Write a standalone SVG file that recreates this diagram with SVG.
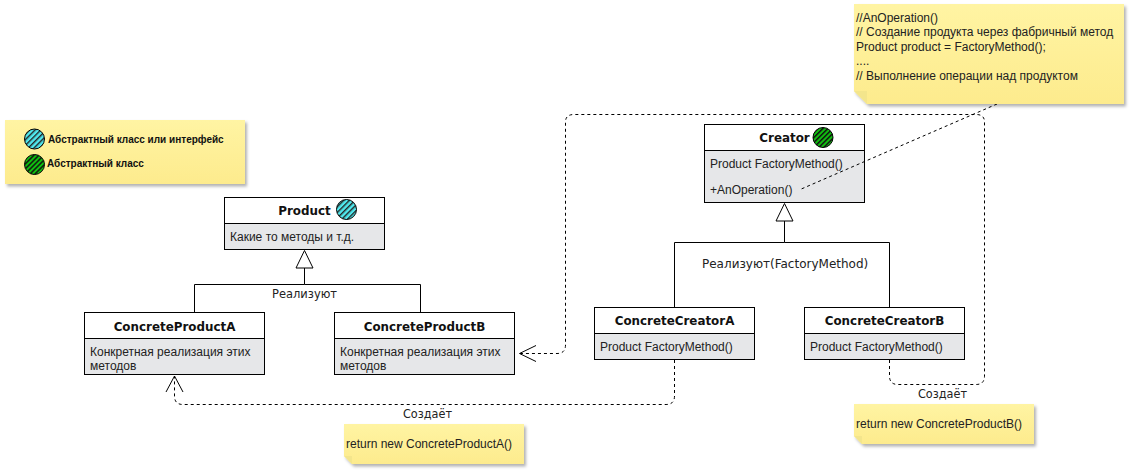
<svg xmlns="http://www.w3.org/2000/svg" width="1130" height="471" viewBox="0 0 1130 471">
<style>
text{font-family:"Liberation Sans",Arial,sans-serif;font-size:12px;fill:#222}
.t{font-family:"DejaVu Sans",Verdana,sans-serif;font-weight:bold;font-size:11.900px;fill:#111;text-anchor:middle}
.l{font-family:"DejaVu Sans",Verdana,sans-serif;font-size:11.700px;fill:#222}
.lg{font-size:10px;font-weight:bold;fill:#111}
.hd{fill:#fff;stroke:#000;stroke-width:1}
.bd{fill:#e6e7e9;stroke:#000;stroke-width:1}
.s{fill:none;stroke:#000;stroke-width:1}
.d{fill:none;stroke:#000;stroke-width:1;stroke-dasharray:3 3}
.n{fill:url(#ng);filter:url(#sh)}
.f{fill:#f3e58c}
.c{stroke:#000;stroke-width:1}
</style>
<defs>
<linearGradient id="ng" x1="0" y1="0" x2="0" y2="1"><stop offset="0" stop-color="#fff4a3"/><stop offset="1" stop-color="#fdeb8d"/></linearGradient>
<filter id="sh" x="-5%" y="-5%" width="112%" height="125%"><feDropShadow dx="2" dy="2.500" stdDeviation="1.500" flood-color="#000" flood-opacity=".3"/></filter>
<pattern id="hc" width="4" height="4" patternUnits="userSpaceOnUse" patternTransform="rotate(45)"><rect width="4" height="4" fill="#4fe8ee"/><rect width="1.400" height="4" fill="#222"/></pattern>
<pattern id="hg" width="3.500" height="3.500" patternUnits="userSpaceOnUse" patternTransform="rotate(45)"><rect width="3.500" height="3.500" fill="#0fc40f"/><rect width="1.500" height="3.500" fill="#111"/></pattern>
</defs>

<g id="legend">
<rect class="n" x="5" y="120" width="240" height="64"/>
<circle class="c" cx="34.500" cy="139" r="10" fill="url(#hc)"/>
<circle class="c" cx="34.500" cy="164.500" r="10" fill="url(#hg)"/>
<text class="lg" x="48" y="142.500">Абстрактный класс или интерфейс</text>
<text class="lg" x="47" y="167">Абстрактный класс</text>
</g>

<g id="product">
<rect class="bd" x="224.500" y="197.500" width="160" height="52"/>
<rect class="hd" x="224.500" y="197.500" width="160" height="26"/>
<text class="t" x="304.500" y="215">Product</text>
<circle class="c" cx="346.500" cy="209.500" r="10" fill="url(#hc)"/>
<text x="230" y="241">Какие то методы и т.д.</text>
</g>

<g id="concrete-product-a">
<rect class="bd" x="84.500" y="312.500" width="180" height="62"/>
<rect class="hd" x="84.500" y="312.500" width="180" height="26"/>
<text class="t" x="174.500" y="330.500">ConcreteProductA</text>
<text x="90" y="356">Конкретная реализация этих</text>
<text x="90" y="370">методов</text>
</g>

<g id="concrete-product-b">
<rect class="bd" x="334.500" y="312.500" width="180" height="62"/>
<rect class="hd" x="334.500" y="312.500" width="180" height="26"/>
<text class="t" x="424.500" y="330.500">ConcreteProductB</text>
<text x="340" y="356">Конкретная реализация этих</text>
<text x="340" y="370">методов</text>
</g>

<g id="creator">
<rect class="bd" x="704.500" y="124.500" width="160" height="78"/>
<rect class="hd" x="704.500" y="124.500" width="160" height="26"/>
<text class="t" x="784.500" y="142">Creator</text>
<circle class="c" cx="823" cy="137.500" r="10" fill="url(#hg)"/>
<text x="710" y="168">Product FactoryMethod()</text>
<text x="710" y="194">+AnOperation()</text>
</g>

<g id="concrete-creator-a">
<rect class="bd" x="594.500" y="307.500" width="160" height="52"/>
<rect class="hd" x="594.500" y="307.500" width="160" height="26"/>
<text class="t" x="674.500" y="325">ConcreteCreatorA</text>
<text x="600" y="351">Product FactoryMethod()</text>
</g>

<g id="concrete-creator-b">
<rect class="bd" x="804.500" y="307.500" width="160" height="52"/>
<rect class="hd" x="804.500" y="307.500" width="160" height="26"/>
<text class="t" x="884.500" y="325">ConcreteCreatorB</text>
<text x="810" y="351">Product FactoryMethod()</text>
</g>

<g id="connectors">
<path class="s" d="M304.500 268V284.500H194.500V312M304.500 284.500H420.500V312"/>
<path class="s" d="M296 268L304.500 250.500L313 268Z"/>
<path class="s" d="M784.500 221V242.500H674.500V307M784.500 242.500H889.500V307"/>
<path class="s" d="M776 221L784.500 203.500L793 221Z"/>
<path class="d" d="M889.500 360V376Q889.500 384.500 898 384.500H976Q984.500 384.500 984.500 376V122Q984.500 114.500 976 114.500H574Q565.500 114.500 565.500 122V345Q565.500 353.500 557 353.500H520"/>
<path class="s" d="M536 345.500L519.500 353.500L536 361.500"/>
<path class="d" d="M674.500 360V396Q674.500 404.500 666 404.500H183Q174.500 404.500 174.500 396V376"/>
<path class="s" d="M166 392L174.500 376L183 392"/>
<path class="d" d="M997 104L799 190"/>
</g>

<g id="note-operation">
<path class="n" d="M854 4H1124V104H867L854 91Z"/>
<path class="f" d="M854 91H867V104Z"/>
<text x="856" y="22">//AnOperation()</text>
<text x="856" y="36">// Создание продукта через фабричный метод</text>
<text x="856" y="51">Product product = FactoryMethod();</text>
<text x="856" y="65">....</text>
<text x="856" y="80">// Выполнение операции над продуктом</text>
</g>

<g id="note-a">
<path class="n" d="M344 424H524V464H352L344 456Z"/>
<path class="f" d="M344 456H352V464Z"/>
<text x="346" y="448">return new ConcreteProductA()</text>
</g>

<g id="note-b">
<path class="n" d="M854 404H1034V444H862L854 436Z"/>
<path class="f" d="M854 436H862V444Z"/>
<text x="856" y="428">return new ConcreteProductB()</text>
</g>

<g id="labels">
<text class="l" x="272" y="298" textLength="65" lengthAdjust="spacingAndGlyphs">Реализуют</text>
<text class="l" x="702" y="268" style="font-size:12px">Реализуют(FactoryMethod)</text>
<text class="l" x="403" y="418" textLength="49" lengthAdjust="spacingAndGlyphs">Создаёт</text>
<text class="l" x="918" y="398" textLength="49" lengthAdjust="spacingAndGlyphs">Создаёт</text>
</g>
</svg>
